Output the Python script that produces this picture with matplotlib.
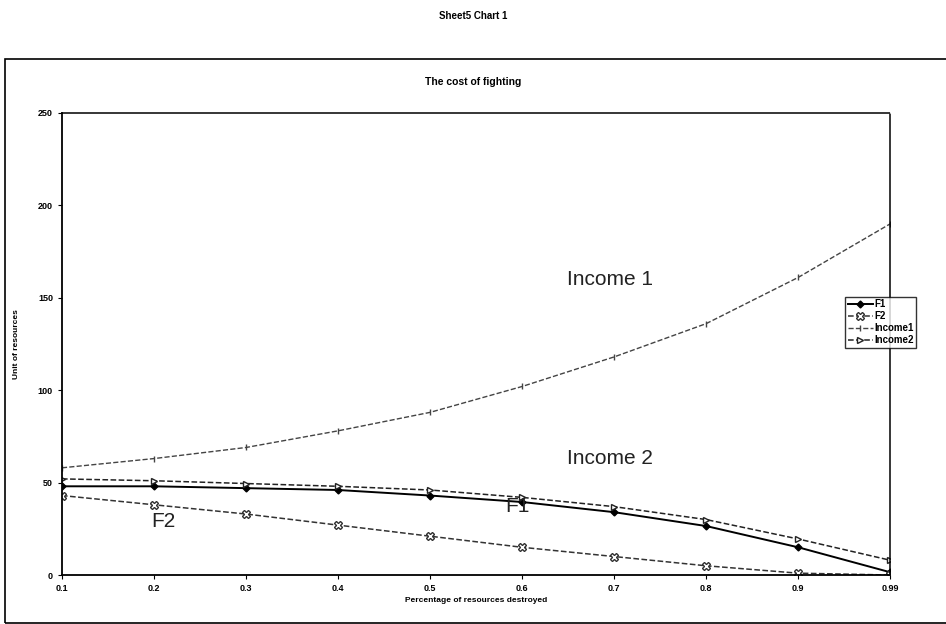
import matplotlib.pyplot as plt
from matplotlib.patches import Rectangle

plt.rcParams['font.family'] = ['Liberation Sans', 'DejaVu Sans']

# datos
etiquetas = ["0.1", "0.2", "0.3", "0.4", "0.5", "0.6", "0.7", "0.8", "0.9", "0.99"]
f1 = [48, 48, 47, 46, 43, 39.5, 34, 26.5, 15, 1.5]
f2 = [43, 38, 33, 27, 21, 15, 10, 5, 1, 0]
income1 = [58, 63, 69, 78, 88, 102, 118, 136, 161, 190]
income2 = [52, 51, 49.5, 48, 46, 42, 37, 30, 19.5, 8]

fig = plt.figure(figsize=(9.46, 6.24), dpi=100)
fig.text(0.5, 0.975, "Sheet5 Chart 1", ha='center', va='center', fontsize=7, fontweight='bold')
fig.patches.append(Rectangle((0.005, 0.002), 1.2, 0.903, transform=fig.transFigure,
                             fill=False, lw=1.2, ec='black'))
fig.text(0.5, 0.868, "The cost of fighting", ha='center', va='center', fontsize=7.5, fontweight='bold')

ax = fig.add_axes([0.0655, 0.0785, 0.8755, 0.7405])
x = range(len(etiquetas))

ax.plot(x, f1, '-', color='black', lw=1.4, marker='D', ms=3.5, label='F1')
ax.plot(x, f2, '--', color='#333333', lw=1.1, marker='X', ms=6, mfc='white', mec='#333333', label='F2')
ax.plot(x, income1, '--', color='#444444', lw=1.0, marker='|', ms=5, label='Income1')
ax.plot(x, income2, '--', color='#222222', lw=1.1, marker='>', ms=5, mfc='white', label='Income2')

ax.set_xlim(0, 9)
ax.set_ylim(0, 250)
ax.set_xticks(list(x))
ax.set_xticklabels(etiquetas)
ax.set_yticks([0, 50, 100, 150, 200, 250])
ax.tick_params(labelsize=6.5, length=3, width=0.8)
for t in ax.get_xticklabels() + ax.get_yticklabels():
    t.set_fontweight('bold')

for s in ['top', 'right']:
    ax.spines[s].set_linestyle((0, (1.5, 1)))
    ax.spines[s].set_linewidth(1.1)
ax.spines['left'].set_linewidth(1.3)
ax.spines['bottom'].set_linewidth(1.3)

ax.set_xlabel("Percentage of resources destroyed", fontsize=6, fontweight='bold', labelpad=3)
ax.set_ylabel("Unit of resources", fontsize=6, fontweight='bold', labelpad=13)

ax.text(5.95, 160, "Income 1", fontsize=15, color='#222222', ha='center', va='center')
ax.text(5.95, 63, "Income 2", fontsize=15, color='#222222', ha='center', va='center')
ax.text(4.95, 37, "F1", fontsize=15, color='#222222', ha='center', va='center')
ax.text(1.1, 29, "F2", fontsize=15, color='#222222', ha='center', va='center')

leg = ax.legend(loc='upper left', bbox_to_anchor=(0.9457, 0.602), fontsize=7, frameon=True,
                fancybox=False, edgecolor='black', borderpad=0.25, labelspacing=0.2,
                handlelength=2.6, handletextpad=0.15, borderaxespad=0)
leg.get_frame().set_linewidth(1.0)
for t in leg.get_texts():
    t.set_fontweight('bold')

fig.savefig("out.png", dpi=100)
